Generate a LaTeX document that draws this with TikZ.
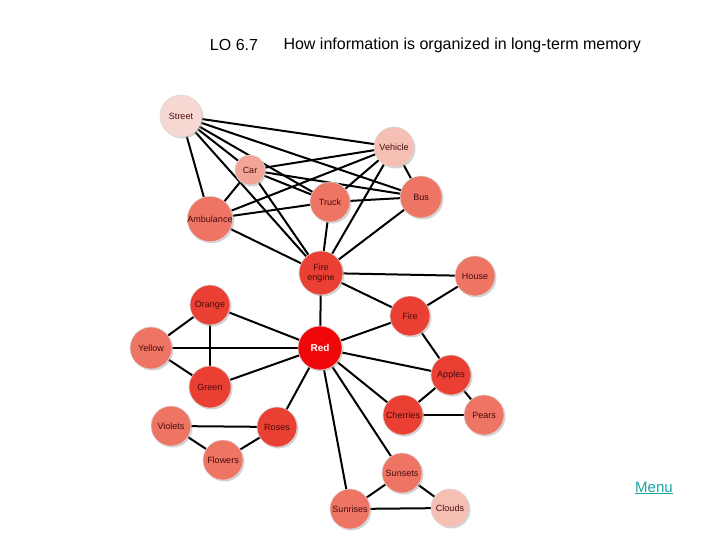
\documentclass[tikz,border=0pt]{standalone}
\usepackage{fontspec}
\setmainfont{Liberation Sans}
\usetikzlibrary{shadows,backgrounds}
\definecolor{c1}{HTML}{F7D7D2}
\definecolor{c2}{HTML}{F5BFB4}
\definecolor{c3}{HTML}{F2A596}
\definecolor{c4}{HTML}{EE7464}
\definecolor{c5}{HTML}{EA4034}
\definecolor{c6}{HTML}{F00808}
\definecolor{txt}{HTML}{4A0A0A}
\definecolor{menu}{HTML}{1AA3A3}
\begin{document}
\begin{tikzpicture}[x=1pt,y=-1pt,
  ball/.style={circle,minimum size=#1,inner sep=0pt,font=\fontsize{9}{9.5}\selectfont,text=txt,
    draw=black!15,line width=0.6pt,drop shadow={shadow xshift=1.5pt,shadow yshift=-1.5pt,fill=black!35,opacity=0.5},align=center},
  ball/.default=40pt,
  edge/.style={line width=2pt,black}]
\useasboundingbox (0,0) rectangle (720,540);
\node[font=\fontsize{16}{16}\selectfont] (lo) at (234,45) {LO 6.7};
\node[font=\fontsize{16}{16}\selectfont,anchor=west] (title) at (280,45) {How information is organized in long-term memory};
\node[font=\fontsize{15}{15}\selectfont,text=menu] (menu) at (654,488) {\underline{Menu}};
% nodes
\node[ball=42pt,fill=c1] (street) at (181,116) {Street};
\node[ball=40pt,fill=c2] (vehicle) at (394,147) {Vehicle};
\node[ball=30pt,fill=c3] (car) at (250,170) {Car};
\node[ball=40pt,fill=c4] (truck) at (330,202) {Truck};
\node[ball=42pt,fill=c4] (bus) at (421,197) {Bus};
\node[ball=44pt,fill=c4] (amb) at (210,219) {Ambulance};
\node[ball=44pt,fill=c5] (fe) at (321,273) {Fire\\engine};
\node[ball=40pt,fill=c4] (house) at (475,276) {House};
\node[ball=40pt,fill=c5] (fire) at (410,316) {Fire};
\node[ball=40pt,fill=c5] (orange) at (210,305) {Orange};
\node[ball=44pt,fill=c6,text=white,font=\fontsize{10}{10}\selectfont\bfseries] (red) at (320,348) {Red};
\node[ball=42pt,fill=c4] (yellow) at (151,348) {Yellow};
\node[ball=42pt,fill=c5] (green) at (210,387) {Green};
\node[ball=40pt,fill=c5] (apples) at (451,375) {Apples};
\node[ball=40pt,fill=c5] (cherries) at (403,415) {Cherries};
\node[ball=40pt,fill=c4] (pears) at (484,415) {Pears};
\node[ball=40pt,fill=c4] (violets) at (171,426) {Violets};
\node[ball=40pt,fill=c5] (roses) at (277,427) {Roses};
\node[ball=40pt,fill=c4] (flowers) at (223,460) {Flowers};
\node[ball=40pt,fill=c4] (sunsets) at (402,473) {Sunsets};
\node[ball=40pt,fill=c4] (sunrises) at (350,509) {Sunrises};
\node[ball=38pt,fill=c2] (clouds) at (450,508) {Clouds};
% edges
\begin{scope}[on background layer]
\foreach \a/\b in {street/vehicle,street/bus,street/truck,street/car,street/fe,street/amb,
  car/vehicle,car/bus,car/truck,car/amb,car/fe,
  vehicle/amb,vehicle/truck,vehicle/fe,vehicle/bus,
  truck/amb,truck/bus,truck/fe,amb/fe,bus/fe,
  fe/house,fe/fire,fe/red,fire/house,fire/red,fire/apples,
  orange/red,orange/yellow,orange/green,yellow/red,yellow/green,green/red,
  red/roses,red/apples,red/cherries,red/sunsets,red/sunrises,
  apples/cherries,apples/pears,cherries/pears,
  violets/roses,violets/flowers,flowers/roses,
  sunsets/sunrises,sunsets/clouds,sunrises/clouds}
  {\draw[edge] (\a.center) -- (\b.center);}
\end{scope}
\end{tikzpicture}
\end{document}
